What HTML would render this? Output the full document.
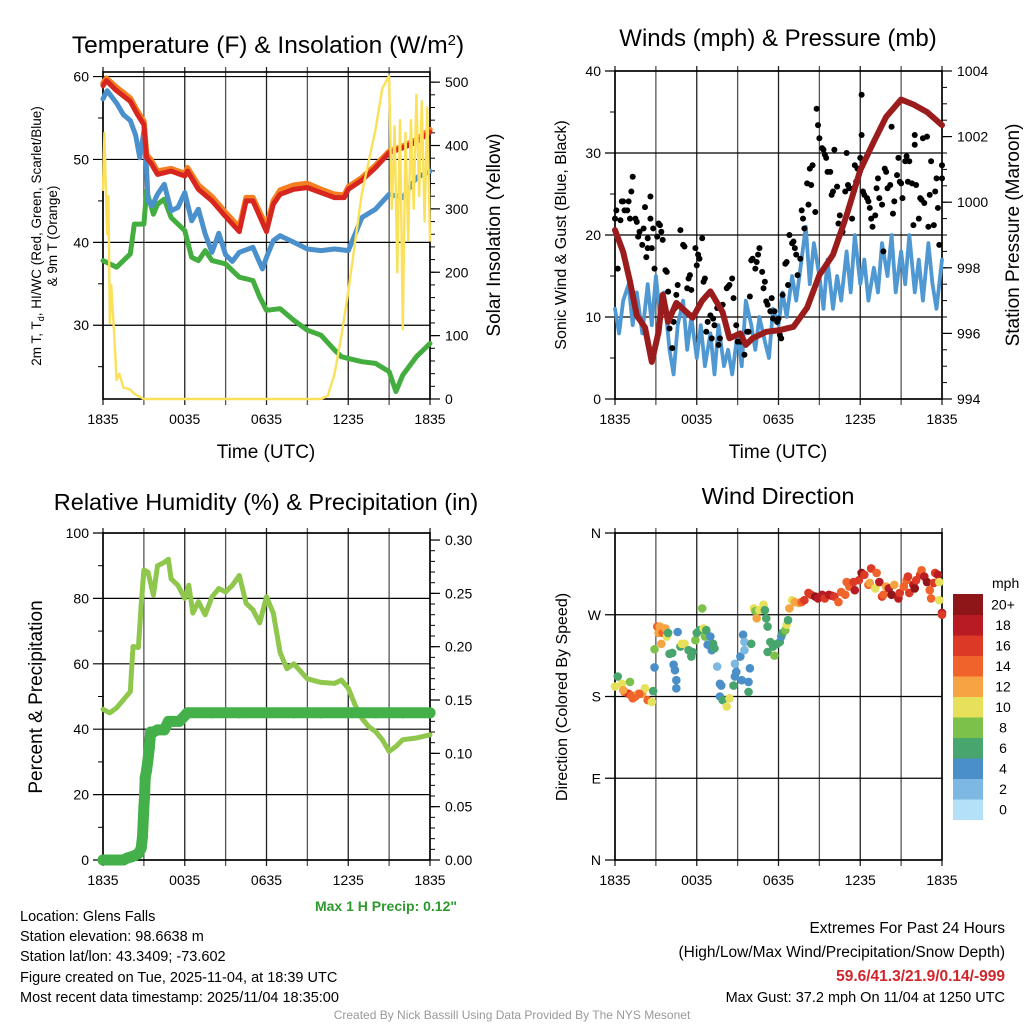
<!DOCTYPE html>
<html><head><meta charset="utf-8">
<style>
html,body{margin:0;padding:0;background:#fff;}
svg{display:block;font-family:"Liberation Sans",Arial,sans-serif;}
</style></head>
<body>
<svg id="c" width="1024" height="1024" viewBox="0 0 1024 1024" xmlns="http://www.w3.org/2000/svg">
<rect width="1024" height="1024" fill="#fff"/>
<text x="268" y="53" font-size="24.5" text-anchor="middle">Temperature (F) &amp; Insolation (W/m<tspan dy="-8" font-size="15">2</tspan><tspan dy="8">)</tspan></text>
<text x="778" y="46" font-size="24" text-anchor="middle">Winds (mph) &amp; Pressure (mb)</text>
<text x="266" y="510" font-size="23.5" text-anchor="middle">Relative Humidity (%) &amp; Precipitation (in)</text>
<text x="778" y="504" font-size="23.5" text-anchor="middle">Wind Direction</text>

<text transform="translate(41,236) rotate(-90)" font-size="13.5" text-anchor="middle">2m T, T<tspan dy="3" font-size="9">d</tspan><tspan dy="-3">, HI/WC (Red, Green, Scarlet/Blue)</tspan></text>
<text transform="translate(57,236) rotate(-90)" font-size="13.5" text-anchor="middle">&amp; 9m T (Orange)</text>
<text transform="translate(500,235) rotate(-90)" font-size="19" text-anchor="middle">Solar Insolation (Yellow)</text>
<text transform="translate(566,235) rotate(-90)" font-size="16" text-anchor="middle">Sonic Wind &amp; Gust (Blue, Black)</text>
<text transform="translate(1019,235) rotate(-90)" font-size="19" text-anchor="middle">Station Pressure (Maroon)</text>
<text transform="translate(42,697) rotate(-90)" font-size="19" text-anchor="middle">Percent &amp; Precipitation</text>
<text transform="translate(567,697) rotate(-90)" font-size="16" text-anchor="middle">Direction (Colored By Speed)</text>
<text x="266" y="458" font-size="19" text-anchor="middle">Time (UTC)</text>
<text x="778" y="458" font-size="19" text-anchor="middle">Time (UTC)</text>

<text x="386" y="911" font-size="14" font-weight="bold" fill="#2e9a2e" text-anchor="middle">Max 1 H Precip: 0.12"</text>
<g font-size="14.5">
<text x="20" y="921">Location: Glens Falls</text>
<text x="20" y="941">Station elevation: 98.6638 m</text>
<text x="20" y="961">Station lat/lon: 43.3409; -73.602</text>
<text x="20" y="982">Figure created on Tue, 2025-11-04, at 18:39 UTC</text>
<text x="20" y="1002">Most recent data timestamp: 2025/11/04 18:35:00</text>
</g>
<g font-size="15.5" text-anchor="end">
<text x="1005" y="933">Extremes For Past 24 Hours</text>
<text x="1005" y="957">(High/Low/Max Wind/Precipitation/Snow Depth)</text>
<text x="1005" y="981" font-weight="bold" fill="#d0262b">59.6/41.3/21.9/0.14/-999</text>
<text x="1005" y="1002" font-size="14.5">Max Gust: 37.2 mph On 11/04 at 1250 UTC</text>
</g>
<text x="512" y="1019" font-size="12" fill="#999" text-anchor="middle">Created By Nick Bassill Using Data Provided By The NYS Mesonet</text>
</svg>
<script>
// ---- data ----
const timeTickLabels = ["1835","0035","0635","1235","1835"];
const tempT = [0,0.25,1,2,2.5,3,3.2,3.5,4,5,6,6.2,7,8,9,10,10.5,11,12,12.5,13,14,15,16,17,17.7,18,19,20,21,22,23,24];
const tempV = [58.9,59.5,58.3,57,55.5,54.2,50.2,49.6,48.2,48.6,48,48.6,46.4,45,43.1,41.3,45,45,41.3,44.6,45.8,46.4,46.6,46,45.4,45.4,46.4,47.5,49,50.8,51.4,52.1,53.3];
const t9mV  = [59.2,59.8,58.7,57.4,55.9,54.6,50.6,50.0,48.6,48.9,48.3,49.0,46.9,45.5,43.6,41.8,45.4,45.4,41.9,45.0,46.3,46.9,47.1,46.4,45.8,45.7,46.7,47.8,49.3,51.0,51.6,52.4,53.6];
const chillT = [0,0.3,1,1.5,2,2.4,2.7,3,3.2,3.3,3.6,4,4.5,5,5.5,6,6.5,7,7.5,8,8.5,9,9.5,10,11,11.7,12,12.5,13,14,15,16,17,18,18.5,19,20,21,22,23,24];
const chillV = [57.3,58.3,56.8,55.4,54.7,52.9,50.2,53.4,48.8,45,44.4,45.8,47,43.8,44.2,46,42.6,44,41,38.8,41.1,38.5,37.7,38.8,39.4,36.8,38.2,40.2,40.8,40,39.2,39,39.2,39,41,43,44,45.8,45.4,47.8,48.6];
const dewT = [0,0.5,1,2,2.3,3,3.2,3.7,4,4.5,5,5.5,6,6.5,7,7.5,8,8.5,9,10,11,11.5,12,13,14,15,16,17,17.5,18,19,20,21,21.5,22,23,24];
const dewV = [37.8,37.4,37,38.6,42.2,42.2,46.2,43.4,44.6,45.2,43,42.2,41.4,38.2,37.8,39,37.8,37.6,37.4,35.8,35.4,33.4,31.8,32,30.6,29.4,28.8,27,26.2,26,25.6,25.4,24.4,22,24,26.2,27.8];
const solarT = [0,0.1,0.3,0.4,0.5,0.6,0.8,1,1.2,1.5,2,2.3,3,16,16.5,17,17.5,18,19,20,20.5,21,21.2,21.4,21.6,21.8,22,22.2,22.4,22.6,22.8,23,23.2,23.4,23.6,23.8,24];
const solarV = [330,420,260,320,120,180,110,30,40,18,15,8,0,0,5,40,100,170,325,425,490,510,300,430,200,440,110,420,250,440,300,480,320,470,280,460,250];
const windT = [0,0.3,0.6,1,1.3,1.6,2,2.4,2.7,3,3.3,3.6,4,4.3,4.6,5,5.3,5.6,6,6.3,6.6,7,7.3,7.6,8,8.3,8.6,9,9.3,9.6,10,10.3,10.6,11,11.3,11.6,12,12.3,12.6,13,13.3,14,14.3,14.6,15,15.3,15.6,16,16.3,16.6,17,17.3,17.6,18,18.3,18.6,19,19.3,19.6,20,20.3,20.6,21,21.3,21.6,22,22.3,22.6,23,23.3,23.6,24];
const windV = [11,8,12,14,9,13,8,14,9,15,10,13,6,3,9,12,6,10,5,9,4,8,3,9,4,6,3,8,4,12,9,6,10,7,5,11,9,13,10,15,12,21,14,19,15,11,17,11,15,12,18,13,20,14,17,12,16,13,19,15,20,13,18,14,20,13,17,12,19,14,11,17];
const presT = [0,0.6,1.1,1.6,2.2,2.7,3.2,3.5,3.9,4.5,5.7,6.4,7,7.9,8.4,9.2,9.6,10.1,11.1,12.1,13.1,14.1,15,16,17,18,19,19.9,21,21.9,22.9,24];
const presV = [999.15,998.48,997.58,996.55,996.18,995.13,996.05,997.18,996.35,996.93,996.48,997,997.28,996.65,995.85,996,995.65,995.85,996.05,996.1,996.2,996.78,997.78,998.4,999.6,1000.98,1001.85,1002.6,1003.13,1002.98,1002.75,1002.35];
const gustT = [0,0.1,0.2,0.4,0.5,0.6,0.7,0.9,1,1.1,1.2,1.3,1.5,1.6,1.7,1.8,2,2.1,2.2,2.3,2.4,2.4,2.6,2.6,2.7,2.8,2.9,3.1,3.2,3.3,3.4,3.5,3.7,3.8,3.9,4,4.2,4.3,4.4,4.5,4.6,4.8,5,5.1,5.3,5.4,5.5,5.6,5.7,5.9,6,6.1,6.2,6.4,6.5,6.6,6.7,6.8,7,7.1,7.2,7.3,7.5,7.6,7.7,7.9,8.2,8.3,8.4,8.6,8.7,8.9,9,9.2,9.3,9.4,9.5,9.7,9.8,9.9,10,10.1,10.3,10.4,10.5,10.6,10.8,10.9,11,11.1,11.2,11.4,11.5,11.6,11.7,11.9,12,12.1,12.2,12.3,12.5,12.6,12.7,12.8,13,13.1,13.2,13.3,13.4,13.6,13.7,13.8,13.9,14.1,14.2,14.3,14.4,14.5,14.7,14.8,14.9,15,15.2,15.3,15.4,15.5,15.6,15.8,15.9,16,16.1,16.3,16.4,16.5,16.6,16.7,16.9,17,17.1,17.2,17.4,17.5,17.6,17.7,17.8,18,18.1,18.1,18.2,18.3,18.5,18.6,18.7,18.8,18.9,19.1,19.2,19.3,19.4,19.6,19.7,19.8,19.9,20,20.2,20.3,20.4,20.5,20.7,20.8,20.9,21,21.1,21.3,21.4,21.5,21.6,21.8,21.9,22,22,22.1,22.3,22.4,22.5,22.6,22.7,22.9,23,23.1,23.2,23.4,23.5,23.6,23.7,23.8,24,24];
const gustV = [22,23,15.9,21.8,24.1,24.1,23,23,24.1,22,25.3,27.1,22,21.6,19.8,20.4,18.8,20.8,23.4,17.3,19.6,18.4,24.7,22,18.4,20.8,15.9,19.8,21.4,21.2,20.4,19.4,15.7,15.5,13.1,8.6,6.2,9.4,11.1,12.7,13.9,20.6,18.8,18.6,13.5,14.7,15.1,13.3,10.2,18.4,16.3,17.6,17.1,19.6,14.3,14.7,8.2,9.4,10.2,7.4,9.8,9,11.1,6.6,7.4,11.5,13.5,13.7,13.9,14.7,12.3,9,7,7,7,7,5.4,8.2,8.2,12.5,16.9,17.1,15.9,16.7,17.6,18.4,15.5,13.5,14.3,11.9,11.5,10.7,12.3,9.8,10.7,9.4,9.8,7.8,7.4,12.7,16.5,16.7,13.9,20,19,19.2,18.4,17.6,15.1,17.1,23,22,20.8,26.3,23.7,28.1,26.1,28.5,22.8,35.4,33.4,31.8,30.6,30.4,29.8,29.4,27.7,27.7,24.9,25.3,30.4,25.9,21.4,22.4,20.4,20.4,25.3,30,26.1,25.7,22,25.7,28.5,26.5,28.1,29.4,37.1,32.2,25.3,24.9,24.5,24.1,23.3,22,21,22.4,25.7,26.9,24.5,23.7,18,28.1,27.7,25.7,26.1,33.2,22.6,24.1,27.3,29.4,26.5,26.3,24.5,29,29.6,26.5,29,26.3,21.2,32.2,31,26.1,22,24.5,24.3,31.8,23.9,32,21,24.9,29,21.2,25.3,26.9,23.3,18.8,26.9,28.5];
const rhT = [0,0.5,1,1.5,2,2.2,2.6,2.8,3,3.3,3.7,4,4.5,4.8,5,5.5,6,6.3,6.6,7,7.5,8,8.5,9,9.5,10,10.5,11,11.5,12,12.5,13,13.5,14,15,16,17,17.5,18,18.5,19,19.5,20,20.5,21,21.5,22,23,24];
const rhV = [46.1,45,46.5,49,51.5,65.3,65,78,88.7,88,81,90,91,92,86,84,80,84,75.5,79,75,80.5,83,82,84,87,78.5,76.5,72.5,80.5,75.5,63.5,58.5,60,55.4,54.3,54,55,52.5,47.4,43.3,40.8,39.3,36.8,33.2,34.7,36.8,37.3,38.3];
const precipT = [0,0.3,0.6,0.9,1.2,1.5,1.8,2.1,2.3,2.6,2.8,2.9,3.0,3.05,3.1,3.2,3.3,3.4,3.5,3.7,4,4.5,4.8,5.2,5.6,6.2,8,10,12,14,16,18,20,22,24];
const precipV = [0,0,0,0,0,0,0.002,0.003,0.004,0.006,0.011,0.022,0.05,0.06,0.077,0.084,0.094,0.105,0.12,0.12,0.122,0.122,0.13,0.13,0.13,0.138,0.138,0.138,0.138,0.138,0.138,0.138,0.138,0.138,0.138];
const dirT = [0.0,0.2,0.5,0.7,1.0,1.2,1.5,1.7,2.0,2.2,2.4,2.7,2.8,1.1,0.6,1.8,1.3,2.9,2.9,3.1,3.2,3.3,3.4,3.5,3.7,3.8,3.9,4.0,4.2,4.3,4.4,4.5,4.5,4.6,4.8,4.9,5.1,5.4,5.6,5.7,5.9,6.0,6.2,6.4,6.5,6.6,6.7,6.8,7.0,7.1,7.2,7.3,7.5,7.7,7.8,7.7,7.9,8.2,8.4,8.7,8.8,8.8,8.9,9.2,9.3,9.4,9.5,9.5,9.8,9.8,9.9,10.0,10.2,10.3,10.4,10.6,10.9,11.0,11.1,11.2,11.4,11.2,11.6,11.7,11.9,12.1,12.2,12.3,12.5,12.6,12.7,12.8,13.0,13.2,13.5,13.7,13.9,14.2,14.4,14.7,14.9,15.2,15.4,15.7,15.9,16.1,16.4,16.6,16.9,17.0,17.2,17.5,17.6,17.9,18.1,18.3,18.6,18.7,18.8,19.1,19.2,19.4,19.6,19.7,19.9,20.1,20.3,20.5,20.8,20.9,21.2,21.4,21.5,21.6,21.9,22.0,22.1,22.4,22.5,22.7,22.9,23.1,23.2,23.4,23.5,23.7,23.8,23.8,24.0,24.0];
const dirD = [191,202,194,185,183,181,180,183,183,189,176,174,186,196,187,183,178,212,232,257,250,257,238,250,255,246,250,227,228,215,209,198,189,251,235,238,238,231,224,229,242,250,253,277,255,246,253,237,246,231,238,233,213,194,192,180,176,169,178,192,202,216,207,224,198,248,240,231,196,185,211,238,277,274,266,275,281,275,266,257,240,229,235,225,238,240,246,250,253,259,264,277,286,284,283,284,286,294,292,290,288,292,288,292,291,290,284,295,292,306,301,306,297,308,316,314,303,305,321,299,316,306,290,292,301,299,292,303,288,294,301,308,312,294,303,299,308,314,319,312,306,297,288,305,316,314,286,306,272,270];
const dirS = [10,7,10,14,16,15,14,13,12,10,14,11,7,8,12,14,15,4,8,14,12,13,12,15,12,10,7,7,6,4,4,4,4,4,6,10,10,6,6,6,8,6,6,8,10,8,6,4,4,4,6,6,3,4,4,4,6,10,10,6,4,3,4,4,4,4,3,3,4,6,4,6,10,8,12,10,10,6,7,6,6,6,6,8,6,6,4,6,8,10,7,12,11,12,12,14,16,16,17,20,18,18,16,19,18,16,14,14,14,15,15,16,18,16,20,17,14,12,16,11,14,18,16,15,12,18,20,13,19,17,14,15,16,16,18,20,17,16,14,18,20,14,14,16,16,18,10,10,18,16];
const speedLabels = ["0","2","4","6","8","10","12","14","16","18","20+"];
const speedColors = ["#b4e1f7","#7db8e2","#4a8fc7","#48a56e","#7cc24a","#e6e05a","#f6a443","#f0632a","#dc3a26","#b81c22","#8e1518"];

// ---- drawing ----
const svg = document.getElementById('c');
const NS = "http://www.w3.org/2000/svg";
function mk(tag, attrs, parent){
  const e = document.createElementNS(NS, tag);
  for (const k in attrs) e.setAttribute(k, attrs[k]);
  (parent||svg).appendChild(e);
  return e;
}
function panel(p){
  p.sx = t => p.x0 + (p.x1-p.x0)*t/24;
  p.syL = v => p.y1 - (v-p.lmin)/(p.lmax-p.lmin)*(p.y1-p.y0);
  if (p.rmax!==undefined) p.syR = v => p.y1 - (v-p.rmin)/(p.rmax-p.rmin)*(p.y1-p.y0);
  return p;
}
const P1 = panel({x0:103,x1:430,y0:72,y1:399,lmin:21.1,lmax:60.55,rmin:0,rmax:516});
const P2 = panel({x0:615,x1:942,y0:71,y1:399,lmin:0,lmax:40,rmin:994,rmax:1004});
const P3 = panel({x0:103,x1:430,y0:533,y1:860,lmin:0,lmax:100,rmin:0,rmax:0.3066});
const P4 = panel({x0:615,x1:942,y0:533,y1:860,lmin:0,lmax:360});

function drawFrame(p, name, lMaj, lMin, lFmt, rMaj, rMin, rFmt, lLabels){
  const g = mk('g', {});
  
  
  for (let h=0; h<=24; h+=3){
    const x = p.sx(h);
    const gl = mk('line', {x1:x,x2:x,y1:p.y0-5,y2:p.y1+6,stroke:(h%6===0)?'#222':'#555','stroke-width':1.3}, g);
    
    
  }
  for (let i=0;i<timeTickLabels.length;i++){
    const tl = mk('text', {x:p.sx(i*6), y:p.y1+25, 'font-size':14, 'text-anchor':'middle'}, g);
    tl.textContent = timeTickLabels[i];
    
    
  }
  lMaj.forEach((v,i) => {
    const y = p.syL(v);
    const hl = mk('line', {x1:p.x0-10,x2:p.x1,y1:y,y2:y,stroke:'#000','stroke-width':1.2}, g);
    
    
    const lt = mk('text', {x:p.x0-14, y:y+5, 'font-size':14, 'text-anchor':'end'}, g);
    lt.textContent = lLabels ? lLabels[i] : lFmt(v);
    
    
  });
  lMin.forEach(v => {
    const y = p.syL(v);
    mk('line', {x1:p.x0-5,x2:p.x0,y1:y,y2:y,stroke:'#000','stroke-width':1}, g);
  });
  if (rMaj){
    rMaj.forEach(v => {
      const y = p.syR(v);
      mk('line', {x1:p.x1,x2:p.x1+10,y1:y,y2:y,stroke:'#000','stroke-width':1.2}, g);
      const rt = mk('text', {x:p.x1+15, y:y+5, 'font-size':14}, g);
      rt.textContent = rFmt(v);
      
      
    });
    rMin.forEach(v => {
      const y = p.syR(v);
      mk('line', {x1:p.x1,x2:p.x1+5,y1:y,y2:y,stroke:'#000','stroke-width':1}, g);
    });
  }
  const fr = mk('rect', {x:p.x0,y:p.y0,width:p.x1-p.x0,height:p.y1-p.y0,fill:'none',stroke:'#000','stroke-width':1.6}, g);
  
  
}
function rng(a,b,s){const r=[];for(let v=a;v<=b+1e-9;v+=s)r.push(+v.toFixed(4));return r;}

drawFrame(P1,'temperature',[30,40,50,60],[25,35,45,55],v=>String(v),rng(0,500,100),rng(20,500,20),v=>String(v));
drawFrame(P2,'winds',[0,10,20,30,40],[5,15,25,35],v=>String(v),rng(994,1004,2),rng(994.5,1004,0.5),v=>String(v));
drawFrame(P3,'humidity',rng(0,100,20),rng(10,90,20),v=>String(v),rng(0,0.3,0.05),rng(0,0.3,0.01),v=>v.toFixed(2));
drawFrame(P4,'direction',[0,90,180,270,360],[],null,null,null,null,["N","E","S","W","N"]);

function line(p, ts, vs, sy, color, w, name){
  const d = ts.map((t,i)=>(i?'L':'M')+p.sx(t).toFixed(1)+','+sy(vs[i]).toFixed(1)).join('');
  const e = mk('path', {d:d, fill:'none', stroke:color, 'stroke-width':w, 'stroke-linejoin':'round', 'stroke-linecap':'round'});
  
  
  return e;
}
line(P1, dewT, dewV, P1.syL, '#43ad3f', 5, 'dewpoint-line');
line(P1, chillT, chillV, P1.syL, '#4a90cd', 5, 'wind-chill-line');
line(P1, tempT, t9mV, P1.syL, '#f47f20', 5.5, 't9m-line');
line(P1, tempT, tempV, P1.syL, '#d7251f', 5, 'temperature-line');
line(P1, solarT, solarV, P1.syR, '#fbe05a', 2.4, 'solar-line');
line(P2, windT, windV, P2.syL, '#4f98d2', 3.8, 'sonic-wind-line');
gustT.forEach((t,i) => {
  const c = mk('circle', {cx:P2.sx(t), cy:P2.syL(gustV[i]), r:3, fill:'#000'});
  
  
});
line(P2, presT, presV, P2.syR, '#9b1c1c', 6, 'pressure-line');
line(P3, rhT, rhV, P3.syL, '#8ec74c', 5, 'humidity-line');
line(P3, precipT, precipV, P3.syR, '#44b04a', 11, 'precip-line');
precipT.forEach((t,i) => {
  const c = mk('circle', {cx:P3.sx(t), cy:P3.syR(precipV[i]), r:5.5, fill:'#44b04a'});
  
  
});
dirT.forEach((t,i) => {
  const bin = Math.min(10, Math.floor(dirS[i]/2));
  const c = mk('circle', {cx:P4.sx(t), cy:P4.syL(dirD[i]), r:4.3, fill:speedColors[bin]});
  
  
});
const cb = mk('g', {});


const ut = mk('text', {x:992, y:588, 'font-size':14}, cb);
ut.textContent = 'mph';


const bh = 20.5;
for (let i=0;i<speedLabels.length;i++){
  const y = 594 + (10-i)*bh;
  const r = mk('rect', {x:953, y:y, width:30, height:bh+0.5, fill:speedColors[i]}, cb);
  
  
  const tx = mk('text', {x:1003, y:y+bh/2+5, 'font-size':14, 'text-anchor':'middle'}, cb);
  tx.textContent = speedLabels[i];
  
  
}
</script>
</body></html>
